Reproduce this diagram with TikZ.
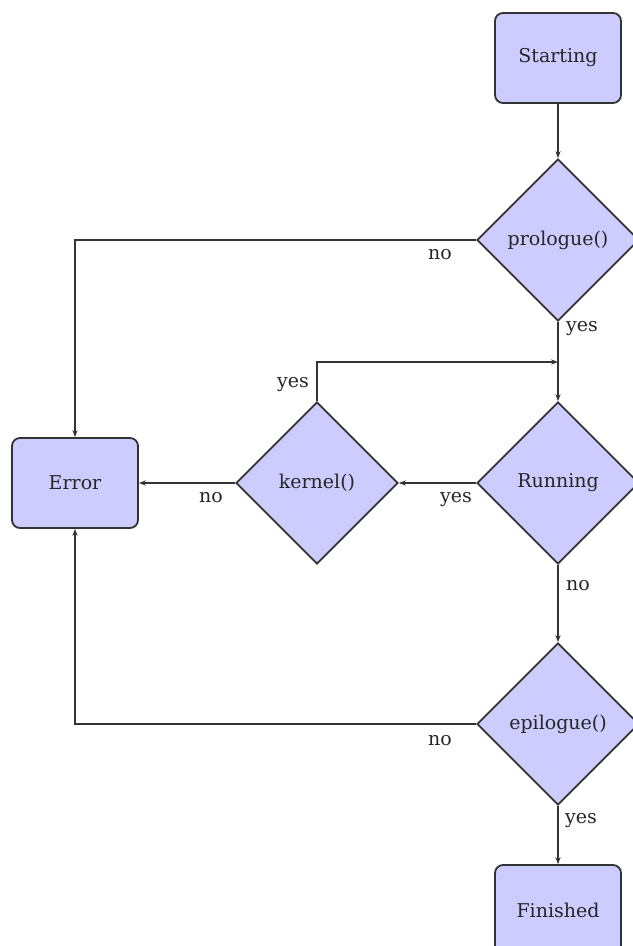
\documentclass[tikz,border=0pt]{standalone}
\usepackage{fontspec}
\setmainfont{DejaVu Serif}
\usetikzlibrary{shapes.geometric,arrows.meta,calc}
\begin{document}
\begin{tikzpicture}[x=0.5pt,y=-0.5pt,
  base/.style={draw=black!80, line width=0.9pt, fill=blue!20, text=black!85,
    font=\fontsize{9.5}{11}\selectfont},
  statebox/.style={base, rectangle, rounded corners=4pt,
    minimum width=63pt, minimum height=45pt},
  decision/.style={base, diamond, aspect=1, inner sep=0pt,
    minimum width=81pt, minimum height=81pt},
  flow/.style={draw=black!80, line width=0.8pt,
    -{Stealth[length=3.5pt,width=2.6pt]}},
  lbl/.style={anchor=base, inner sep=0pt, text=black!85,
    font=\fontsize{9.5}{11}\selectfont}]

\useasboundingbox (0,0) rectangle (632,946);

% states and decisions
\node[statebox] (start) at (558,58)  {Starting};
\node[decision] (pro)   at (558,240) {prologue()};
\node[decision] (run)   at (558,483) {Running};
\node[decision] (ker)   at (317,483) {kernel()};
\node[statebox] (err)   at (75,483)  {Error};
\node[decision] (epi)   at (558,724) {epilogue()};
\node[statebox] (fin)   at (558,910) {Finished};

% junction where the kernel loop rejoins the main line
\coordinate (join) at ($(pro.south)!0.5!(run.north)+(0,0.5)$);

% connectors
\draw[flow] (start) -- (pro);
\draw[flow] (pro.west) -| (err.north);
\draw[flow] (pro.south) -- (run.north);
\draw[flow] (ker.north) |- (join);
\draw[flow] (run.west) -- (ker.east);
\draw[flow] (ker.west) -- (err.east);
\draw[flow] (run.south) -- (epi.north);
\draw[flow] (epi.west) -| (err.south);
\draw[flow] (epi.south) -- (fin.north);

% branch labels
\node[lbl] (l1) at (440,260) {no};
\node[lbl] (l2) at (582,331) {yes};
\node[lbl] (l3) at (293,387) {yes};
\node[lbl] (l4) at (456,502) {yes};
\node[lbl] (l5) at (211,502) {no};
\node[lbl] (l6) at (578,590) {no};
\node[lbl] (l7) at (440,745) {no};
\node[lbl] (l8) at (581,823) {yes};
\end{tikzpicture}
\end{document}
